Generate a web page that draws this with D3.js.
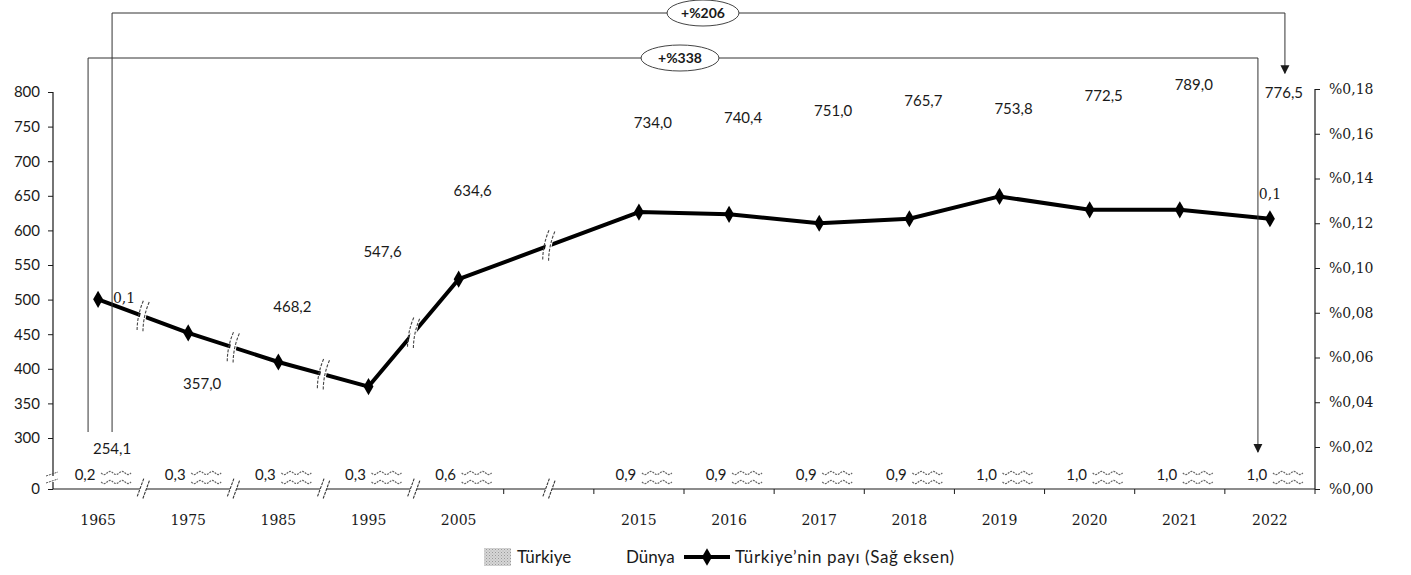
<!DOCTYPE html>
<html>
<head>
<meta charset="utf-8">
<script src="https://cdn.jsdelivr.net/npm/d3@7"></script>
<style>
  body { margin: 0; background: #fff; }
  svg { display: block; }
</style>
</head>
<body>
<svg id="chart" width="1411" height="575"></svg>
<script>
// ---- data ----
const years = ["1965", "1975", "1985", "1995", "2005", "2015", "2016", "2017", "2018", "2019", "2020", "2021", "2022"];
const turkiye = [0.2, 0.3, 0.3, 0.3, 0.6, 0.9, 0.9, 0.9, 0.9, 1.0, 1.0, 1.0, 1.0];
const dunya = [254.1, 357.0, 468.2, 547.6, 634.6, 734.0, 740.4, 751.0, 765.7, 753.8, 772.5, 789.0, 776.5];
const share = [0.086, 0.071, 0.058, 0.047, 0.095, 0.125, 0.124, 0.120, 0.122, 0.132, 0.126, 0.126, 0.122];
const shareLabelIdx = [0, 12];
const leftTicks = [0, 300, 350, 400, 450, 500, 550, 600, 650, 700, 750, 800];
const rightTicks = [0, 0.02, 0.04, 0.06, 0.08, 0.10, 0.12, 0.14, 0.16, 0.18];
const changeLabels = ["+%206", "+%338"];
const legendLabels = ["Türkiye", "Dünya", "Türkiye’nin payı (Sağ eksen)"];

// an empty slot separates 2005 from 2015
const GAP = "gap";
const slots = [...years.slice(0, 5), GAP, ...years.slice(5)];

const svg = d3.select("#chart");
const sans = "Lato, 'Open Sans', sans-serif";
const serif = "'DejaVu Serif', 'Liberation Serif', serif";
const ink = "#1a1a1a";
const comma = f => v => f(v).replace(".", ",");
const f1 = comma(d3.format(".1f"));

const X0 = 53, X1 = 1315, BASE = 489;
const x = d3.scaleBand().domain(slots).range([X0, X1]);
const bw = x.bandwidth();
const cx = k => x(k) + bw / 2;
// broken left axis: 0 sits below a compressed section
const yL = d3.scaleLinear().domain([0, 240, 300, 800]).range([BASE, 472, 438, 92]);
const yR = d3.scaleLinear().domain([0, 0.02, 0.18]).range([BASE, 447, 89]);

// dotted fill for the Türkiye series
const defs = svg.append("defs");
const pat = defs.append("pattern").attr("id", "dots").attr("width", 3).attr("height", 3)
  .attr("patternUnits", "userSpaceOnUse");
pat.append("rect").attr("width", 3).attr("height", 3).attr("fill", "#d6d6d6");
pat.append("rect").attr("width", 1).attr("height", 1).attr("fill", "#9a9a9a");
pat.append("rect").attr("x", 1.5).attr("y", 1.5).attr("width", 1).attr("height", 1).attr("fill", "#b0b0b0");
defs.append("marker").attr("id", "arrow").attr("viewBox", "0 0 10 10")
  .attr("refX", 9).attr("refY", 5).attr("markerWidth", 9).attr("markerHeight", 11)
  .attr("markerUnits", "userSpaceOnUse").attr("orient", "auto")
  .append("path").attr("d", "M0,0L10,5L0,10Z").attr("fill", ink);

// ---- bars ----
const barW = bw * 0.27;
svg.append("g").selectAll("rect").data(years).join("rect")
  .attr("x", d => cx(d) - barW - 1).attr("width", barW)
  .attr("y", (d, i) => yL(turkiye[i])).attr("height", (d, i) => BASE - yL(turkiye[i]))
  .attr("fill", "url(#dots)");
svg.append("g").selectAll("rect").data(years).join("rect")
  .attr("x", d => cx(d) + 1).attr("width", barW)
  .attr("y", (d, i) => yL(dunya[i])).attr("height", (d, i) => BASE - yL(dunya[i]))
  .attr("fill", "#fff");

// wavy break symbol on each broken bar
function wave(xa, xb, y, amp, period) {
  let p = `M${xa},${y}`;
  for (let t = xa; t <= xb; t += 1) p += `L${t},${(y + amp * Math.sin((t - xa) / period * 2 * Math.PI)).toFixed(2)}`;
  return p;
}
const wg = svg.append("g").attr("fill", "none").attr("stroke", "#666").attr("stroke-width", 1.2)
  .attr("stroke-dasharray", "2,1");
years.forEach(d => {
  const xa = cx(d) + 3, xb = cx(d) + 33;
  wg.append("path").attr("d", wave(xa, xb, 473, 1.6, 12));
  wg.append("path").attr("d", wave(xa, xb, 482, 1.6, 12));
});

// ---- value labels ----
svg.append("g").selectAll("text").data(years).join("text")
  .attr("x", d => cx(d) - 13).attr("y", 480).attr("text-anchor", "middle")
  .attr("font-family", sans).attr("font-size", 15).attr("fill", ink)
  .text((d, i) => f1(turkiye[i]));
svg.append("g").selectAll("text").data(years).join("text")
  .attr("x", d => cx(d) + 14).attr("y", (d, i) => yL(dunya[i]) - 10).attr("text-anchor", "middle")
  .attr("font-family", sans).attr("font-size", 15).attr("fill", ink)
  .text((d, i) => f1(dunya[i]));

// ---- axes ----
const axL = svg.append("g").attr("transform", `translate(${X0},0)`)
  .call(d3.axisLeft(yL).tickValues(leftTicks).tickSize(5).tickPadding(8).tickFormat(d3.format("d")));
axL.select(".domain").remove();
axL.selectAll("text").attr("font-family", sans).attr("font-size", 15).attr("fill", ink);
axL.selectAll("line").attr("stroke", ink);
svg.append("path").attr("d", `M${X0},${yL(800)}V${476}M${X0},${482}V${BASE}`)
  .attr("stroke", ink).attr("stroke-width", 1.2);
svg.append("path").attr("d", `M${X0 - 7},${476}l12,-4M${X0 - 7},${483}l12,-4`)
  .attr("stroke", "#555").attr("stroke-width", 1).attr("stroke-dasharray", "2,1");

const axR = svg.append("g").attr("transform", `translate(${X1},0)`)
  .call(d3.axisRight(yR).tickValues(rightTicks).tickSize(5).tickPadding(9)
    .tickFormat(d => "%" + comma(d3.format(".2f"))(d)));
axR.select(".domain").attr("d", `M0,${yR(0.18)}V${BASE}`).attr("stroke", ink).attr("stroke-width", 1.2);
axR.selectAll("text").attr("font-family", serif).attr("font-size", 14).attr("fill", ink);
axR.selectAll("line").attr("stroke", ink);

// category axis
svg.append("line").attr("x1", X0).attr("x2", X1).attr("y1", BASE).attr("y2", BASE)
  .attr("stroke", ink).attr("stroke-width", 1.2);
const breakXs = slots.slice(1, 5).map(k => x(k)).concat([cx(GAP)]);
const tickXs = slots.slice(5).map(k => x(k)).concat([X1]);
svg.append("g").selectAll("line").data(tickXs).join("line")
  .attr("x1", d => d).attr("x2", d => d).attr("y1", BASE).attr("y2", BASE + 5).attr("stroke", ink);
svg.append("g").selectAll("text").data(years).join("text")
  .attr("x", d => cx(d)).attr("y", 525).attr("text-anchor", "middle")
  .attr("font-family", serif).attr("font-size", 14).attr("fill", ink).text(d => d);
const axBreaks = svg.append("g");
breakXs.forEach(bx => {
  const g = axBreaks.append("g").attr("transform", `translate(${bx},${BASE}) rotate(20)`);
  g.append("rect").attr("x", -3).attr("y", -10).attr("width", 6).attr("height", 20).attr("fill", "#fff");
  g.append("path").attr("d", "M-3,-10V10M3,-10V10").attr("stroke", "#333").attr("stroke-width", 1.1)
    .attr("stroke-dasharray", "3,1");
});

// ---- share line ----
const pts = years.map((d, i) => [cx(d), yR(share[i])]);
svg.append("path").datum(pts).attr("d", d3.line())
  .attr("fill", "none").attr("stroke", "#000").attr("stroke-width", 4).attr("stroke-linejoin", "round");
svg.append("g").selectAll("path").data(pts).join("path")
  .attr("transform", d => `translate(${d[0]},${d[1]})`)
  .attr("d", d3.symbol(d3.symbolDiamond, 85)).attr("fill", "#000");
// break marks on the line for the compressed time gaps
const lineBreakSegs = [0, 1, 2, 3, 4];
lineBreakSegs.forEach(i => {
  const [xa, ya] = pts[i], [xb, yb] = pts[i + 1];
  const t = (breakXs[i] - xa) / (xb - xa);
  const by = ya + t * (yb - ya);
  const g = svg.append("g").attr("transform", `translate(${breakXs[i]},${by}) rotate(12)`);
  g.append("rect").attr("x", -3).attr("y", -15).attr("width", 6).attr("height", 30).attr("fill", "#fff");
  g.append("path").attr("d", "M-3,-15Q-6,0 -3,15M3,-15Q0,0 3,15").attr("fill", "none")
    .attr("stroke", "#444").attr("stroke-width", 1.1).attr("stroke-dasharray", "3,1.5");
});
svg.append("g").selectAll("text").data(shareLabelIdx).join("text")
  .attr("x", (d, j) => j === 0 ? pts[d][0] + 26 : pts[d][0])
  .attr("y", (d, j) => j === 0 ? pts[d][1] + 4 : pts[d][1] - 20)
  .attr("text-anchor", "middle").attr("font-family", serif).attr("font-size", 14).attr("fill", ink)
  .text(d => f1(share[d]));

// ---- change annotations ----
const first = years[0], last = years[years.length - 1];
const ann = [
  { label: changeLabels[0], xa: cx(first) + 14, xb: cx(last) + 15, top: 13, yEnd: yL(dunya[12]) - 35, ex: 703, ew: 72 },
  { label: changeLabels[1], xa: cx(first) - 10, xb: cx(last) - 12, top: 58, yEnd: 452, ex: 680, ew: 78 }
];
const ag = svg.append("g");
ann.forEach(a => {
  ag.append("path").attr("d", `M${a.xa},432V${a.top}H${a.xb}V${a.yEnd}`)
    .attr("fill", "none").attr("stroke", "#333").attr("stroke-width", 1).attr("marker-end", "url(#arrow)");
  ag.append("ellipse").attr("cx", a.ex).attr("cy", a.top).attr("rx", a.ew / 2).attr("ry", 13)
    .attr("fill", "#fff").attr("stroke", "#444").attr("stroke-width", 1);
  ag.append("text").attr("x", a.ex).attr("y", a.top + 5).attr("text-anchor", "middle")
    .attr("font-family", sans).attr("font-weight", 700).attr("font-size", 14).attr("fill", ink).text(a.label);
});

// ---- legend ----
const lg = svg.append("g").attr("font-family", sans).attr("font-size", 17).attr("fill", ink);
lg.append("rect").attr("x", 484).attr("y", 548).attr("width", 27).attr("height", 18).attr("fill", "url(#dots)");
lg.append("text").attr("x", 517).attr("y", 563).text(legendLabels[0]);
lg.append("text").attr("x", 626).attr("y", 563).text(legendLabels[1]);
lg.append("line").attr("x1", 684).attr("x2", 730).attr("y1", 557).attr("y2", 557).attr("stroke", "#000").attr("stroke-width", 4);
lg.append("path").attr("transform", "translate(707,557)").attr("d", d3.symbol(d3.symbolDiamond, 90)).attr("fill", "#000");
lg.append("text").attr("x", 735).attr("y", 563).attr("letter-spacing", 0.6).text(legendLabels[2]);
</script>
</body>
</html>
